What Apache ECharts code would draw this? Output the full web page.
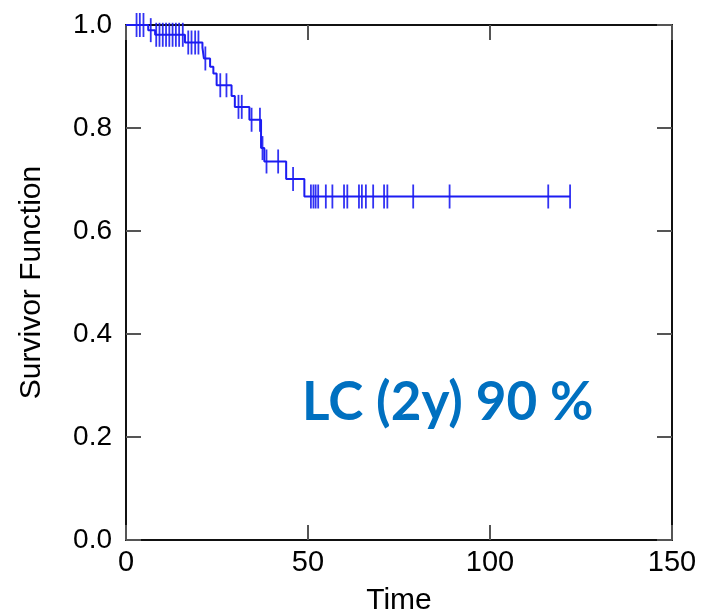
<!DOCTYPE html>
<html>
<head>
<meta charset="utf-8">
<script src="https://cdn.jsdelivr.net/npm/echarts@6/dist/echarts.min.js"></script>
<style>
  html, body { margin: 0; padding: 0; background: #fff; }
  #chart { width: 701px; height: 616px; }
</style>
</head>
<body>
<div id="chart"></div>
<script>
// Kaplan-Meier steps: time of event, survival after the event
var eventTimes = [0, 6.1, 8.0, 16.2, 21.0, 21.4, 23.1, 24.0, 24.9, 29.0, 29.9, 33.9, 37.1, 38.0, 44.0, 49.0, 122.0];
var survival   = [1.0, 0.990, 0.981, 0.966, 0.956, 0.935, 0.919, 0.906, 0.883, 0.862, 0.841, 0.816, 0.761, 0.735, 0.701, 0.667, 0.667];

// censored observations (tick marks)
var censorTimes = [2.9, 3.8, 4.8, 6.8, 8.3, 9.2, 10.1, 11.0, 11.9, 12.8, 13.7, 14.6, 15.6,
  17.1, 18.0, 19.0, 19.9, 21.8, 25.9, 27.6, 30.9, 31.8, 34.5, 36.8, 37.5, 38.6, 41.8, 45.9,
  50.8, 51.5, 52.1, 52.8, 54.9, 56.7, 59.9, 60.8, 64.0, 64.8, 65.9, 67.9, 70.9, 71.8,
  78.9, 88.9, 116.0, 122.0];

var xTicks = [0, 50, 100, 150];
var yTicks = [0, 0.2, 0.4, 0.6, 0.8, 1.0];

var blue = '#1c1cf2';

// survival level at a censor time = level of the curve at that time
function levelAt(t) {
  var s = survival[0];
  for (var i = 0; i < eventTimes.length; i++) {
    if (eventTimes[i] <= t) s = survival[i];
  }
  return s;
}

var curve = eventTimes.map(function (t, i) { return [t, survival[i]]; });
var censors = censorTimes.map(function (t) { return [t, levelAt(t)]; });

var chart = echarts.init(document.getElementById('chart'), null, {renderer: 'canvas'});

var axisLine = {show: true, onZero: false, lineStyle: {color: '#111', width: 2}};
var axisTick = {show: true, inside: true, length: 15, lineStyle: {color: '#555', width: 2}};

chart.setOption({
  animation: false,
  title: {
    text: 'LC (2y) 90 %',
    left: 297,
    top: 371,
    textStyle: {color: '#0070C0', fontSize: 53, fontWeight: 'bold', fontFamily: 'Lato'}
  },
  grid: {left: 126, top: 25, right: 29, bottom: 76, outerBoundsMode: 'none', containLabel: false},
  xAxis: [{
    type: 'value', min: xTicks[0], max: xTicks[xTicks.length - 1], interval: 50,
    name: 'Time', nameLocation: 'middle', nameGap: 46,
    nameTextStyle: {fontSize: 30, color: '#000', fontFamily: 'Liberation Sans'},
    axisLine: axisLine, axisTick: axisTick, splitLine: {show: false},
    axisLabel: {fontSize: 29, color: '#000', margin: 8, fontFamily: 'Liberation Sans'}
  }, {
    type: 'value', position: 'top', min: 0, max: 150, interval: 50,
    axisLine: axisLine, axisTick: axisTick, splitLine: {show: false}, axisLabel: {show: false}
  }],
  yAxis: [{
    type: 'value', min: yTicks[0], max: yTicks[yTicks.length - 1], interval: 0.2,
    name: 'Survivor Function', nameLocation: 'middle', nameGap: 79,
    nameTextStyle: {fontSize: 30, color: '#000', fontFamily: 'Liberation Sans'},
    axisLine: axisLine, axisTick: axisTick, splitLine: {show: false},
    axisLabel: {fontSize: 28, color: '#000', margin: 14, fontFamily: 'Liberation Sans',
      formatter: function (v) { return v.toFixed(1); }}
  }, {
    type: 'value', position: 'right', min: 0, max: 1, interval: 0.2,
    axisLine: axisLine, axisTick: axisTick, splitLine: {show: false}, axisLabel: {show: false}
  }],
  series: [{
    type: 'line',
    step: 'end',
    data: curve,
    showSymbol: false,
    lineStyle: {color: blue, width: 2},
    z: 3
  }, {
    type: 'scatter',
    data: censors,
    symbol: 'rect',
    symbolSize: [1.8, 24],
    itemStyle: {color: blue, opacity: 0.9},
    z: 4
  }]
});
</script>
</body>
</html>
